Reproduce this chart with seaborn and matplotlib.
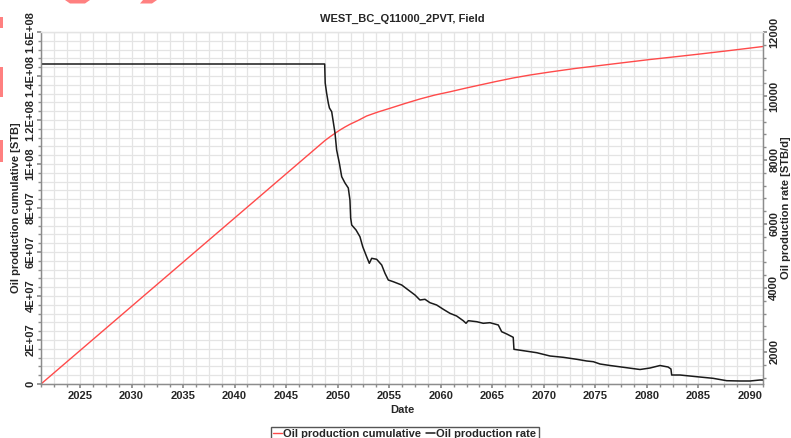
import matplotlib
matplotlib.use("Agg")
import matplotlib.pyplot as plt
from matplotlib.ticker import MultipleLocator, FuncFormatter
from matplotlib.patches import Polygon
import seaborn as sns
import pandas as pd

# ---- data -------------------------------------------------------------
# cumulative oil production [STB] vs. decimal year
cum_year = [2021.22, 2048.77, 2049.25, 2049.74, 2050.22, 2050.71, 2051.19,
            2051.97, 2052.81, 2053.91, 2055.07, 2056.53, 2057.98, 2059.44,
            2060.89, 2062.35, 2063.80, 2065.36, 2067.01, 2068.66, 2070.60,
            2073.02, 2075.45, 2077.87, 2080.30, 2082.72, 2085.15, 2088.06,
            2091.26]
cum_stb = [0.0, 1.1068e8, 1.1236e8, 1.1395e8, 1.1545e8, 1.1682e8, 1.1805e8,
           1.1977e8, 1.2182e8, 1.2364e8, 1.2532e8, 1.2750e8, 1.2955e8,
           1.3136e8, 1.3282e8, 1.3441e8, 1.3591e8, 1.3750e8, 1.3909e8,
           1.4045e8, 1.4182e8, 1.4341e8, 1.4477e8, 1.4614e8, 1.4750e8,
           1.4873e8, 1.5000e8, 1.5159e8, 1.5341e8]

# oil production rate [STB/d] vs. decimal year
rate_year = [2021.22, 2048.74, 2048.79, 2048.93, 2049.09, 2049.20, 2049.42,
             2049.57, 2049.74, 2049.90, 2050.16, 2050.39, 2050.71, 2051.03,
             2051.19, 2051.26, 2051.36, 2051.78, 2052.16, 2052.43, 2052.81,
             2053.07, 2053.30, 2053.78, 2054.27, 2054.59, 2054.91, 2055.39,
             2056.21, 2056.85, 2057.50, 2057.98, 2058.47, 2058.95, 2059.60,
             2060.25, 2060.89, 2061.54, 2062.18, 2062.45, 2062.67, 2063.49,
             2064.12, 2064.77, 2065.58, 2065.91, 2066.40, 2067.03, 2067.10,
             2068.01, 2069.31, 2070.60, 2071.89, 2073.19, 2074.16, 2074.80,
             2075.45, 2076.42, 2077.87, 2079.33, 2080.30, 2081.27, 2082.05,
             2082.33, 2082.40, 2083.21, 2084.83, 2086.41, 2087.74, 2089.03,
             2090.00, 2090.97, 2091.26]
rate_stbd = [11000, 11000, 10406, 10084, 9781, 9625, 9509,
             9197, 8844, 8313, 7906, 7478, 7281, 7125,
             6750, 6188, 5969, 5813, 5603, 5291, 4978,
             4772, 4928, 4897, 4719, 4459, 4250, 4197,
             4094, 3938, 3781, 3625, 3647, 3541, 3469,
             3334, 3209, 3125, 2978, 2897, 2978, 2947,
             2897, 2916, 2844, 2634, 2563, 2459, 2084,
             2041, 1978, 1875, 1834, 1772, 1719, 1697,
             1625, 1578, 1516, 1453, 1500, 1578, 1531,
             1469, 1281, 1281, 1228, 1178, 1103, 1094,
             1094, 1125, 1125]

x_ticks = [2025, 2030, 2035, 2040, 2045, 2050, 2055, 2060,
           2065, 2070, 2075, 2080, 2085, 2090]
left_ticks = [0, 2e7, 4e7, 6e7, 8e7, 1e8, 1.2e8, 1.4e8, 1.6e8]
right_ticks = [2000, 4000, 6000, 8000, 10000, 12000]

cum_df = pd.DataFrame({"Date": cum_year, "Cumulative": cum_stb})
rate_df = pd.DataFrame({"Date": rate_year, "Rate": rate_stbd})

# ---- style ------------------------------------------------------------
sns.set_theme(style="whitegrid")
plt.rcParams["font.family"] = ["Liberation Sans", "DejaVu Sans"]
plt.rcParams["font.weight"] = "bold"

W, H = 791, 438
fig = plt.figure(figsize=(W / 100, H / 100), dpi=100)
fig.patch.set_facecolor("white")
ax = fig.add_axes([41 / W, 1 - 384 / H, (763 - 41) / W, (384 - 32) / H])
ax2 = ax.twinx()

red = "#ff4a4a"
blk = "#1a1a1a"
grid_c = "#e4e4e4"
spine_c = "#8c8c8c"

sns.lineplot(data=cum_df, x="Date", y="Cumulative", ax=ax, color=red,
             linewidth=1.0, sort=False, estimator=None,
             label="Oil production cumulative")
sns.lineplot(data=rate_df, x="Date", y="Rate", ax=ax2, color=blk,
             linewidth=1.1, sort=False, estimator=None,
             label="Oil production rate")

# ---- axes -------------------------------------------------------------
ax.set_xlim(2021.22, 2091.26)
ax.set_ylim(0, 1.6e8)
ax2.set_ylim(1000, 12000)

ax.set_xticks(x_ticks)
ax.xaxis.set_minor_locator(MultipleLocator(1.25))
ax.set_yticks(left_ticks)
ax.yaxis.set_minor_locator(MultipleLocator(4e6))
ax2.set_yticks(right_ticks)
ax2.yaxis.set_minor_locator(MultipleLocator(400))

ax.xaxis.set_major_formatter(FuncFormatter(lambda v, p: f"{int(round(v))}"))
ax.yaxis.set_major_formatter(FuncFormatter(lambda v, p: f"{v:G}"))
ax2.yaxis.set_major_formatter(FuncFormatter(lambda v, p: f"{int(v)}"))

ax.grid(True, which="both", color=grid_c, linewidth=0.9)
ax2.grid(False)
ax.set_axisbelow(True)

for a in (ax, ax2):
    for s in a.spines.values():
        s.set_color(spine_c)
        s.set_linewidth(0.9)
    a.spines["top"].set_color(grid_c)

ax.tick_params(axis="x", which="major", direction="out", length=3,
               color=spine_c, labelsize=8, pad=2, bottom=True)
ax.tick_params(axis="x", which="minor", direction="out", length=2,
               color=spine_c, bottom=True)
ax.tick_params(axis="y", which="major", direction="out", length=3,
               color=spine_c, labelsize=8, pad=1, labelrotation=90, left=True)
ax.tick_params(axis="y", which="minor", direction="out", length=2,
               color=spine_c, left=True)
ax2.tick_params(axis="y", which="major", direction="out", length=3,
                color=spine_c, labelsize=8, pad=1.5, labelrotation=90,
                right=True)
ax2.tick_params(axis="y", which="minor", direction="out", length=2,
                color=spine_c, right=True)
for lab in ax.get_yticklabels() + ax2.get_yticklabels():
    lab.set_va("center")
    lab.set_fontweight("bold")
for lab in ax.get_xticklabels():
    lab.set_fontweight("bold")

ax.set_xlabel("Date", fontsize=8, fontweight="bold", labelpad=3)
ax.set_ylabel("Oil production cumulative [STB]", fontsize=8,
              fontweight="bold", labelpad=3)
ax2.set_ylabel("Oil production rate [STB/d]", fontsize=8,
               fontweight="bold", labelpad=1, rotation=90)
ax.set_title("WEST_BC_Q11000_2PVT, Field", fontsize=8, fontweight="bold",
             pad=7)

# ---- legend -----------------------------------------------------------
h1, l1 = ax.get_legend_handles_labels()
h2, l2 = ax2.get_legend_handles_labels()
ax.get_legend().remove()
ax2.get_legend().remove()
fig.legend(h1 + h2, l1 + l2, loc="upper center",
           bbox_to_anchor=(404.5 / W, 1 - 427 / H), ncol=2, frameon=True,
           fancybox=False, edgecolor="#555555", framealpha=1,
           handlelength=0.8, handletextpad=0.1, columnspacing=0.5,
           borderpad=0.2, borderaxespad=0,
           prop={"size": 8, "weight": "bold"})

# ---- small red marks along the top-left border ------------------------
def px(pts):
    return [(x / W, 1 - y / H) for x, y in pts]

mark_c = "#ff8080"
for pts in ([(65, 0), (90, 0), (85, 3.5), (70, 3.5)],
            [(143, 0), (157, 0), (152, 3.5), (140, 3.5)],
            [(0, 17), (2.5, 17), (2.5, 28), (0, 28)],
            [(0, 67), (2.5, 67), (2.5, 97), (0, 97)],
            [(0, 140), (2.5, 140), (2.5, 162), (0, 162)]):
    fig.patches.append(Polygon(px(pts), closed=True, transform=fig.transFigure,
                               facecolor=mark_c, edgecolor="none",
                               figure=fig))

fig.savefig("out.png", dpi=100, facecolor="white")
